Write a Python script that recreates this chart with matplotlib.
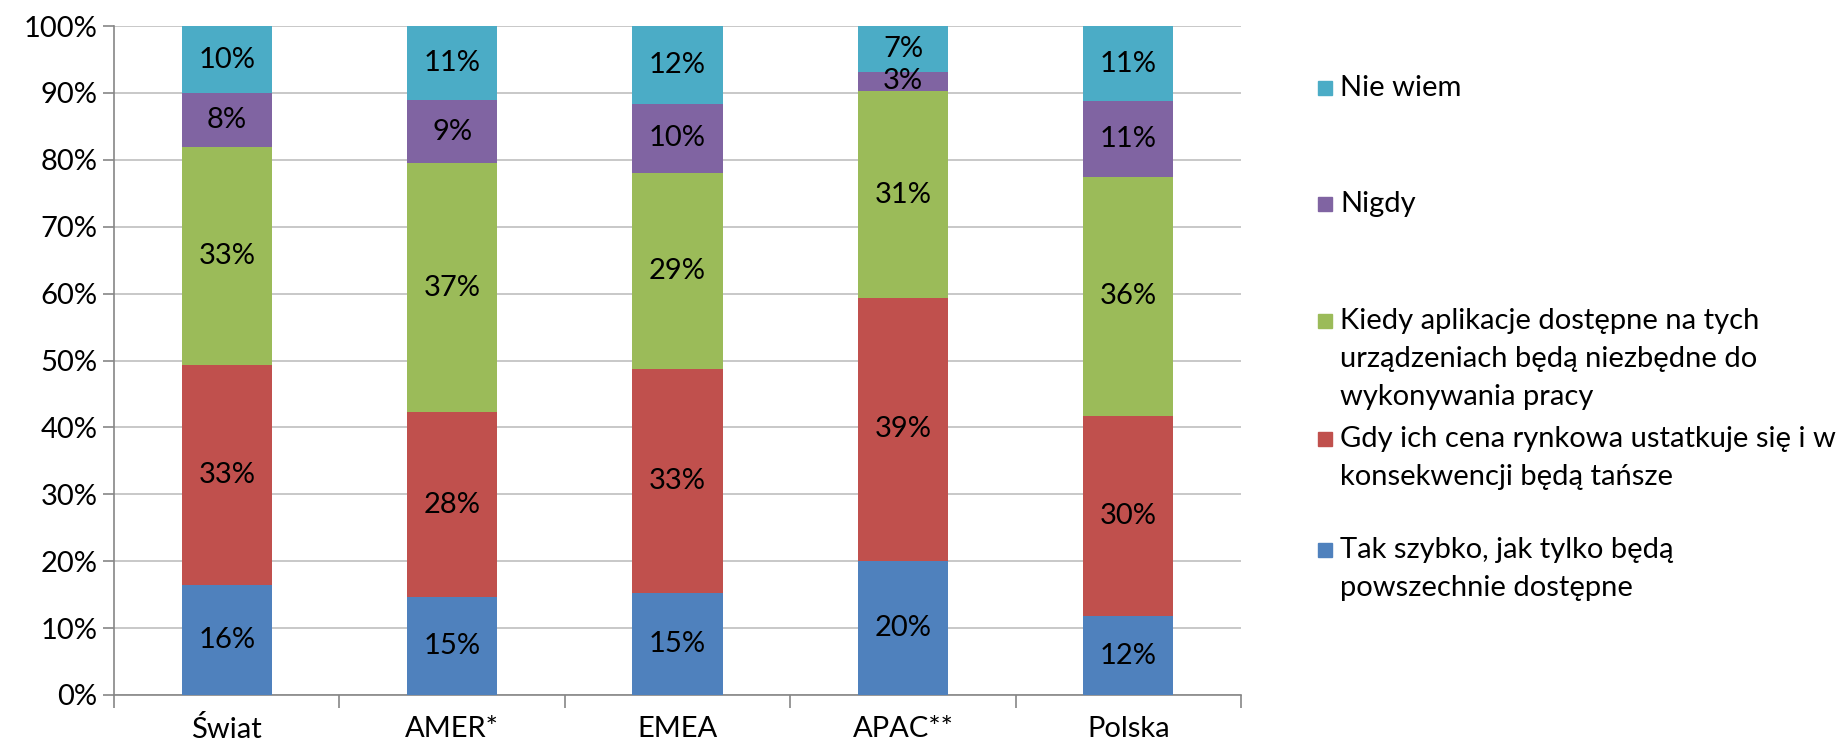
import numpy as np
import matplotlib
matplotlib.use('Agg')
import matplotlib.pyplot as plt
from matplotlib.patches import Rectangle

plt.rcParams['font.family'] = ['Lato', 'DejaVu Sans']

# dane (procenty)
kategorie = ['Świat', 'AMER*', 'EMEA', 'APAC**', 'Polska']
tak_szybko = [16.4, 14.6, 15.3, 20.1, 11.8]
gdy_cena = [33.0, 27.7, 33.4, 39.2, 29.9]
kiedy_aplikacje = [32.6, 37.2, 29.3, 31.0, 35.8]
nigdy = [8.0, 9.4, 10.4, 2.9, 11.3]
nie_wiem = [10.0, 11.1, 11.6, 6.8, 11.2]

serie = [
    ('Tak szybko, jak tylko będą\npowszechnie dostępne', tak_szybko, '#4F81BD'),
    ('Gdy ich cena rynkowa ustatkuje się i w\nkonsekwencji będą tańsze', gdy_cena, '#C0504D'),
    ('Kiedy aplikacje dostępne na tych\nurządzeniach będą niezbędne do\nwykonywania pracy', kiedy_aplikacje, '#9BBB59'),
    ('Nigdy', nigdy, '#8064A2'),
    ('Nie wiem', nie_wiem, '#4BACC6'),
]

fs = 21
fig = plt.figure(figsize=(18.46, 7.46), dpi=100)
ax = fig.add_axes([0.0618, 0.0684, 0.6105, 0.8966])

x = np.arange(len(kategorie))
dol = np.zeros(len(kategorie))
for nazwa, wart, kolor in serie:
    wart = np.array(wart)
    ax.bar(x, wart, 0.4, bottom=dol, color=kolor, zorder=3)
    for xi, b, v in zip(x, dol, wart):
        ax.text(xi, b + v / 2, '{:.0f}%'.format(v), ha='center', va='center',
                fontsize=fs, color='black', zorder=4)
    dol = dol + wart

ax.set_xlim(-0.5, len(kategorie) - 0.5)
ax.set_ylim(0, 100)
ax.set_yticks(np.arange(0, 101, 10))
ax.set_yticklabels(['{}%'.format(t) for t in range(0, 101, 10)], fontsize=fs)
ax.yaxis.grid(True, color='#BFBFBF', linewidth=1.2, zorder=0)
ax.tick_params(axis='y', length=8, color='#868686', width=1.2, pad=4)

ax.set_xticks(x)
ax.set_xticklabels(kategorie, fontsize=fs)
ax.set_xticks(np.arange(-0.5, len(kategorie)), minor=True)
ax.tick_params(axis='x', which='major', length=0, pad=15)
ax.tick_params(axis='x', which='minor', length=9, color='#868686', width=1.2)

for s in ['top', 'right']:
    ax.spines[s].set_visible(False)
for s in ['left', 'bottom']:
    ax.spines[s].set_color('#868686')
    ax.spines[s].set_linewidth(1.2)

# legenda (kolejność jak w Excelu: od góry)
W, H = 1846.0, 746.0
fs_leg = 21
pozycje_y = [550, 439, 321, 204, 88]
for (nazwa, wart, kolor), py in zip(serie, pozycje_y):
    fig.patches.append(Rectangle((1318 / W, 1 - (py + 7) / H), 14 / W, 14 / H,
                                 transform=fig.transFigure, color=kolor))
    fig.text(1340 / W, 1 - (py - 13) / H, nazwa, fontsize=fs_leg, va='top', ha='left',
             linespacing=1.57)

fig.savefig('out.png', dpi=100)
